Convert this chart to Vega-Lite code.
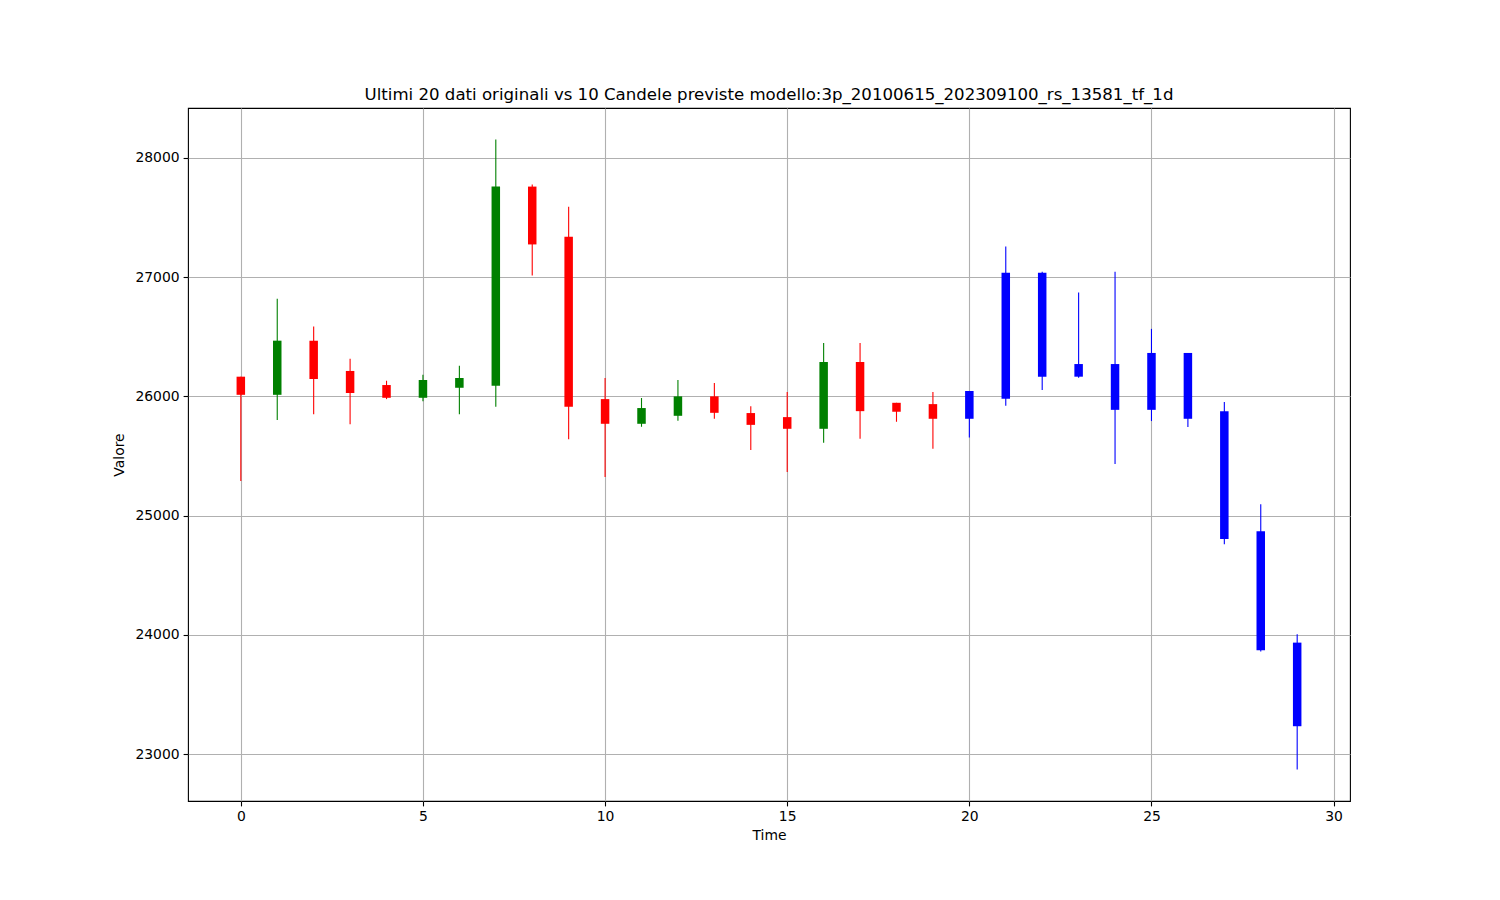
{
  "$schema": "https://vega.github.io/schema/vega-lite/v6.json",
  "width": 1162,
  "height": 693,
  "autosize": {"type": "none"},
  "padding": {"left": 188, "top": 108, "right": 150, "bottom": 99},
  "background": "white",
  "title": {
    "text": "Ultimi 20 dati originali vs 10 Candele previste modello:3p_20100615_202309100_rs_13581_tf_1d",
    "font": "DejaVu Sans",
    "fontSize": 16.6,
    "fontWeight": "normal",
    "color": "black",
    "offset": 4,
    "anchor": "middle"
  },
  "config": {
    "view": {"stroke": "black", "strokeWidth": 1.1},
    "axis": {
      "labelFont": "DejaVu Sans",
      "labelFontSize": 13.9,
      "labelColor": "black",
      "titleFont": "DejaVu Sans",
      "titleFontSize": 13.9,
      "titleFontWeight": "normal",
      "titleColor": "black",
      "gridColor": "#b0b0b0",
      "gridWidth": 1.1,
      "gridOpacity": 1,
      "tickColor": "black",
      "tickSize": 4.9,
      "tickWidth": 1.1,
      "labelPadding": 4,
      "domain": false
    }
  },
  "data": {
    "values": [
      {"t": 0, "open": 26165, "high": 26165, "low": 25291, "close": 26013, "tipo": "ribasso"},
      {"t": 1, "open": 26013, "high": 26818, "low": 25801, "close": 26467, "tipo": "rialzo"},
      {"t": 2, "open": 26467, "high": 26585, "low": 25851, "close": 26145, "tipo": "ribasso"},
      {"t": 3, "open": 26213, "high": 26316, "low": 25767, "close": 26028, "tipo": "ribasso"},
      {"t": 4, "open": 26095, "high": 26131, "low": 25977, "close": 25988, "tipo": "ribasso"},
      {"t": 5, "open": 25988, "high": 26182, "low": 25960, "close": 26137, "tipo": "rialzo"},
      {"t": 6, "open": 26072, "high": 26257, "low": 25851, "close": 26154, "tipo": "rialzo"},
      {"t": 7, "open": 26089, "high": 28154, "low": 25913, "close": 27759, "tipo": "rialzo"},
      {"t": 8, "open": 27759, "high": 27776, "low": 27013, "close": 27274, "tipo": "ribasso"},
      {"t": 9, "open": 27339, "high": 27591, "low": 25641, "close": 25913, "tipo": "ribasso"},
      {"t": 10, "open": 25977, "high": 26154, "low": 25324, "close": 25770, "tipo": "ribasso"},
      {"t": 11, "open": 25770, "high": 25986, "low": 25745, "close": 25902, "tipo": "rialzo"},
      {"t": 12, "open": 25837, "high": 26137, "low": 25795, "close": 26000, "tipo": "rialzo"},
      {"t": 13, "open": 26000, "high": 26112, "low": 25812, "close": 25862, "tipo": "ribasso"},
      {"t": 14, "open": 25860, "high": 25918, "low": 25551, "close": 25761, "tipo": "ribasso"},
      {"t": 15, "open": 25826, "high": 26036, "low": 25366, "close": 25728, "tipo": "ribasso"},
      {"t": 16, "open": 25728, "high": 26448, "low": 25610, "close": 26288, "tipo": "rialzo"},
      {"t": 17, "open": 26288, "high": 26448, "low": 25644, "close": 25876, "tipo": "ribasso"},
      {"t": 18, "open": 25946, "high": 25946, "low": 25787, "close": 25871, "tipo": "ribasso"},
      {"t": 19, "open": 25935, "high": 26036, "low": 25560, "close": 25812, "tipo": "ribasso"},
      {"t": 20, "open": 25812, "high": 26045, "low": 25656, "close": 26045, "tipo": "previsto"},
      {"t": 21, "open": 25980, "high": 27257, "low": 25921, "close": 27036, "tipo": "previsto"},
      {"t": 22, "open": 27036, "high": 27045, "low": 26053, "close": 26165, "tipo": "previsto"},
      {"t": 23, "open": 26165, "high": 26871, "low": 26156, "close": 26271, "tipo": "previsto"},
      {"t": 24, "open": 26271, "high": 27045, "low": 25432, "close": 25887, "tipo": "previsto"},
      {"t": 25, "open": 25887, "high": 26566, "low": 25793, "close": 26364, "tipo": "previsto"},
      {"t": 26, "open": 26364, "high": 26364, "low": 25743, "close": 25812, "tipo": "previsto"},
      {"t": 27, "open": 25876, "high": 25952, "low": 24759, "close": 24804, "tipo": "previsto"},
      {"t": 28, "open": 24868, "high": 25095, "low": 23860, "close": 23871, "tipo": "previsto"},
      {"t": 29, "open": 23935, "high": 24005, "low": 22871, "close": 23234, "tipo": "previsto"}
    ]
  },
  "encoding": {
    "x": {
      "field": "t",
      "type": "quantitative",
      "title": "Time",
      "scale": {"domain": [-1.45, 30.45], "nice": false, "zero": false, "padding": 0},
      "axis": {"values": [0, 5, 10, 15, 20, 25, 30], "format": "d", "titlePadding": 5}
    },
    "color": {
      "field": "tipo",
      "type": "nominal",
      "legend": null,
      "scale": {"domain": ["rialzo", "ribasso", "previsto"], "range": ["green", "red", "blue"]}
    }
  },
  "layer": [
    {
      "mark": {"type": "rule", "strokeWidth": 1.1},
      "encoding": {
        "y": {
          "field": "low",
          "type": "quantitative",
          "title": "Valore",
          "scale": {"domain": [22607, 28418], "nice": false, "zero": false, "padding": 0},
          "axis": {"values": [23000, 24000, 25000, 26000, 27000, 28000], "format": "d", "titlePadding": 8}
        },
        "y2": {"field": "high"}
      }
    },
    {
      "mark": {"type": "bar", "size": 8.5},
      "encoding": {
        "y": {"field": "open", "type": "quantitative"},
        "y2": {"field": "close"}
      }
    }
  ]
}
